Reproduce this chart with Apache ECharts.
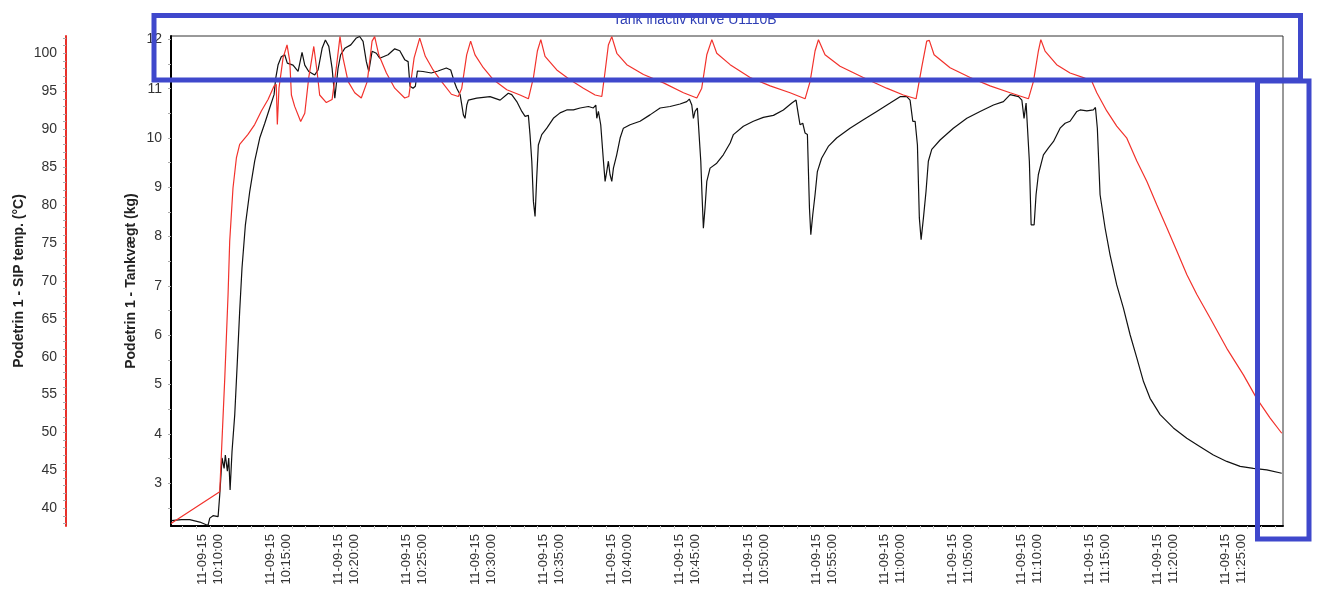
<!DOCTYPE html>
<html><head><meta charset="utf-8">
<script src="https://cdn.jsdelivr.net/npm/echarts@6/dist/echarts.min.js"></script>
<style>html,body{margin:0;padding:0;background:#fff}#c{width:1338px;height:590px}</style>
</head><body><div id="c"></div>
<script>
// ---- data (time in minutes after 10:00:00 on 11-09-15) ----
const titleText = 'Tank inactiv kurve U1110B';
const dateLabel = '11-09-15';
const xTickMinutes = [10,15,20,25,30,35,40,45,50,55,60,65,70,75,80,85];
const kgTicks = [3,4,5,6,7,8,9,10,11,12];
const tempTicks = [40,45,50,55,60,65,70,75,80,85,90,95,100];

const kgTime = [7.16,7.90,8.51,9.25,9.85,9.98,10.22,10.59,10.71,10.88,11.03,11.12,11.27,11.37,11.47,11.61,11.81,12.00,12.17,12.34,12.59,12.91,13.27,13.64,14.01,14.37,14.69,14.81,14.98,15.22,15.47,15.66,16.08,16.45,16.74,16.94,17.23,17.67,17.91,18.21,18.45,18.70,18.94,19.14,19.25,19.38,19.57,19.87,20.31,20.72,20.96,21.21,21.45,21.63,21.87,22.18,22.43,23.04,23.53,23.90,24.26,24.51,24.65,24.87,25.04,25.19,25.60,26.21,26.70,27.31,27.63,27.93,28.07,28.32,28.56,28.68,28.81,28.92,29.54,30.51,31.25,31.85,32.10,32.47,32.84,33.08,33.32,33.44,33.57,33.69,33.81,33.93,34.05,34.30,34.67,35.15,35.64,36.13,36.62,37.11,37.72,38.08,38.26,38.33,38.45,38.62,38.82,38.94,39.06,39.18,39.30,39.43,39.55,39.79,40.04,40.28,40.77,41.50,42.23,42.97,43.70,44.43,44.92,45.11,45.29,45.41,45.53,45.70,45.78,45.95,46.04,46.14,46.26,46.39,46.63,47.12,47.60,48.10,48.34,49.07,49.80,50.53,51.27,52.00,52.62,52.93,53.10,53.22,53.42,53.59,53.76,53.91,54.01,54.15,54.32,54.49,54.80,55.29,55.90,56.88,57.86,58.84,59.82,60.55,61.04,61.28,61.48,61.65,61.82,61.96,62.09,62.26,62.45,62.62,62.87,63.48,64.45,65.44,66.41,67.39,68.12,68.61,69.23,69.47,69.63,69.78,69.88,70.02,70.15,70.37,70.51,70.68,70.93,71.05,71.42,71.79,72.27,72.64,73.00,73.50,73.74,74.23,74.71,74.86,75.00,75.20,75.57,75.93,76.42,76.91,77.40,77.89,78.38,78.86,79.60,80.57,81.55,82.53,83.50,84.48,85.46,86.43,87.41,88.51];
const kgValues = [2.24,2.26,2.26,2.21,2.14,2.29,2.34,2.32,2.76,3.51,3.30,3.57,3.24,3.51,2.86,3.64,4.39,5.47,6.48,7.36,8.24,8.92,9.53,10.00,10.30,10.61,10.88,11.21,11.48,11.65,11.69,11.52,11.48,11.35,11.74,11.48,11.35,11.28,11.38,11.82,11.99,11.86,11.42,10.81,10.77,11.42,11.69,11.82,11.89,12.03,12.06,11.96,11.55,11.35,11.76,11.72,11.62,11.69,11.81,11.77,11.59,11.55,11.05,11.01,11.05,11.36,11.35,11.32,11.36,11.42,11.38,11.11,11.01,10.88,10.47,10.40,10.67,10.77,10.81,10.84,10.77,10.91,10.88,10.74,10.54,10.44,10.46,10.07,9.53,8.71,8.41,9.19,9.86,10.07,10.20,10.40,10.51,10.57,10.57,10.61,10.64,10.61,10.67,10.40,10.54,10.27,9.53,9.12,9.32,9.53,9.26,9.12,9.39,9.66,10.00,10.20,10.27,10.34,10.47,10.61,10.64,10.69,10.74,10.79,10.67,10.40,10.54,10.61,10.27,9.53,8.85,8.17,8.58,9.12,9.39,9.49,9.66,9.90,10.07,10.24,10.34,10.42,10.46,10.57,10.71,10.77,10.47,10.27,10.30,10.10,10.07,8.58,8.04,8.44,8.85,9.32,9.59,9.83,10.00,10.20,10.37,10.54,10.71,10.84,10.84,10.77,10.34,10.34,9.86,8.38,7.94,8.38,8.92,9.53,9.77,9.96,10.20,10.40,10.54,10.67,10.74,10.88,10.84,10.77,10.40,10.71,10.74,9.53,8.24,8.24,8.85,9.26,9.53,9.66,9.80,9.93,10.20,10.30,10.34,10.54,10.57,10.55,10.57,10.62,10.20,8.85,8.17,7.63,7.02,6.55,6.01,5.54,5.06,4.72,4.39,4.12,3.91,3.74,3.57,3.44,3.34,3.30,3.27,3.20];

const tempTime = [7.14,10.71,10.83,11.08,11.32,11.44,11.68,11.93,12.17,12.78,13.27,13.76,14.25,14.69,14.85,14.93,15.05,15.35,15.64,15.84,15.96,16.20,16.64,16.94,17.23,17.60,17.84,18.03,18.52,18.94,19.25,19.52,19.74,20.11,20.60,21.08,21.52,21.87,22.06,22.36,22.92,23.53,24.26,24.56,24.95,25.36,25.77,26.34,26.95,27.68,28.19,28.44,28.80,29.09,29.41,30.02,30.76,31.74,32.71,33.32,33.69,33.98,34.23,34.54,35.40,36.37,37.35,38.21,38.70,38.94,39.18,39.43,39.80,40.53,41.75,43.22,44.68,45.66,46.02,46.39,46.76,47.12,48.10,49.56,51.03,52.49,53.59,53.96,54.32,54.57,55.05,56.15,57.85,59.56,60.79,61.72,62.13,62.50,62.69,63.04,64.21,65.68,67.14,68.61,69.95,70.32,70.68,70.86,71.17,72.02,73.00,73.98,74.59,74.96,75.69,76.42,77.16,77.89,78.63,79.36,80.09,80.83,81.56,82.29,83.26,84.48,85.70,86.67,87.66,88.51];
const tempValues = [38.0,42.2,47.1,57.2,68.2,75.2,82.2,86.2,88.0,89.3,90.6,92.4,93.9,95.7,95.9,90.6,95.4,99.4,101.1,99.0,94.5,93.0,91.0,92.1,96.8,100.9,97.6,94.5,93.5,93.9,98.1,102.2,99.4,96.3,94.8,94.1,96.3,101.6,102.2,99.8,97.4,95.4,94.1,94.3,99.4,102.0,99.6,97.8,96.3,94.6,94.3,95.4,99.8,101.6,99.8,98.1,96.5,95.2,94.5,94.0,96.8,100.3,101.8,99.6,97.8,96.5,95.4,94.5,94.3,97.6,101.1,102.2,100.0,98.5,97.2,96.1,94.8,94.1,95.4,99.8,101.8,100.0,98.5,96.8,95.7,94.8,94.0,96.3,100.3,101.8,99.8,98.3,96.8,95.4,94.5,94.0,98.1,101.6,101.7,99.8,98.1,96.8,95.7,94.8,94.0,96.3,100.3,101.8,100.3,98.5,97.4,96.8,96.3,94.8,92.4,90.4,88.8,85.8,83.1,80.0,77.0,73.9,70.8,68.2,65.1,61.1,57.6,54.5,51.9,49.9];

// ---- rendering ----
const FONT = '"Liberation Sans", Arial, sans-serif';
function clock(m) {
  const s = Math.round(m * 60) + 10 * 3600;
  const h = Math.floor(s / 3600), mi = Math.floor((s % 3600) / 60), se = s % 60;
  const p = n => String(n).padStart(2, '0');
  return p(h) + ':' + p(mi) + ':' + p(se);
}
const xMinor = []; for (let m = 8; m <= 88; m++) xMinor.push(m);
const kgMinor = []; for (let v = 2.5; v <= 12; v += 0.5) kgMinor.push(v);
const tempMinor = []; for (let v = 38; v <= 102; v++) tempMinor.push(v);

const chart = echarts.init(document.getElementById('c'));
chart.setOption({
  animation: false,
  backgroundColor: '#fff',
  title: {
    text: titleText, left: 613, top: 13, padding: 0,
    textStyle: { fontSize: 14, fontWeight: 'normal', color: '#2f3fb5', fontFamily: FONT }
  },
  grid: { left: 171, right: 55, top: 36, bottom: 64, show: true, borderColor: '#333', borderWidth: 1 },
  xAxis: {
    type: 'value', min: 7.14, max: 88.6,
    axisLine: { show: true, onZero: false, lineStyle: { color: '#000', width: 2 } },
    splitLine: { show: false },
    axisTick: { show: true, customValues: xMinor, length: 3, lineStyle: { color: '#ccc' } },
    axisLabel: {
      customValues: xTickMinutes, rotate: 90, fontSize: 13, lineHeight: 16, color: '#333',
      margin: 8, fontFamily: FONT,
      formatter: v => dateLabel + '\n' + clock(v)
    }
  },
  yAxis: [
    {
      type: 'value', position: 'left', min: 2.13, max: 12.07,
      axisLine: { show: true, lineStyle: { color: '#000', width: 2 } },
      axisTick: { show: true, customValues: kgMinor, length: 3, lineStyle: { color: '#aaa' } },
      axisLabel: { customValues: kgTicks, fontSize: 14, color: '#333', margin: 9, fontFamily: FONT },
      splitLine: { show: false },
      name: 'Podetrin 1 - Tankvægt (kg)', nameLocation: 'middle', nameGap: 33, nameMoveOverlap: false,
      nameTextStyle: { fontWeight: 'bold', fontSize: 14, color: '#222', fontFamily: FONT }
    },
    {
      type: 'value', position: 'left', offset: 105, min: 37.67, max: 102.28,
      axisLine: { show: true, lineStyle: { color: '#e8302a', width: 2 } },
      axisTick: { show: true, customValues: tempMinor, length: 3, lineStyle: { color: '#aaa' } },
      axisLabel: { customValues: tempTicks, fontSize: 14, color: '#333', margin: 9, fontFamily: FONT },
      splitLine: { show: false },
      name: 'Podetrin 1 - SIP temp. (°C)', nameLocation: 'middle', nameGap: 40, nameMoveOverlap: false,
      nameTextStyle: { fontWeight: 'bold', fontSize: 14, color: '#222', fontFamily: FONT }
    }
  ],
  series: [
    {
      type: 'line', name: 'Tankvægt', yAxisIndex: 0, showSymbol: false,
      lineStyle: { color: '#111', width: 1.2 }, itemStyle: { color: '#111' },
      data: kgTime.map((t, i) => [t, kgValues[i]])
    },
    {
      type: 'line', name: 'SIP temp', yAxisIndex: 1, showSymbol: false,
      lineStyle: { color: '#f2322c', width: 1.2 }, itemStyle: { color: '#f2322c' },
      data: tempTime.map((t, i) => [t, tempValues[i]])
    }
  ],
  graphic: [
    { type: 'rect', z: 100, shape: { x: 154, y: 15.5, width: 1146.5, height: 64.5 },
      style: { fill: 'none', stroke: '#3f48cc', lineWidth: 5 } },
    { type: 'rect', z: 100, shape: { x: 1257.5, y: 81, width: 51.5, height: 458 },
      style: { fill: 'none', stroke: '#3f48cc', lineWidth: 5 } }
  ]
});
</script>
</body></html>
